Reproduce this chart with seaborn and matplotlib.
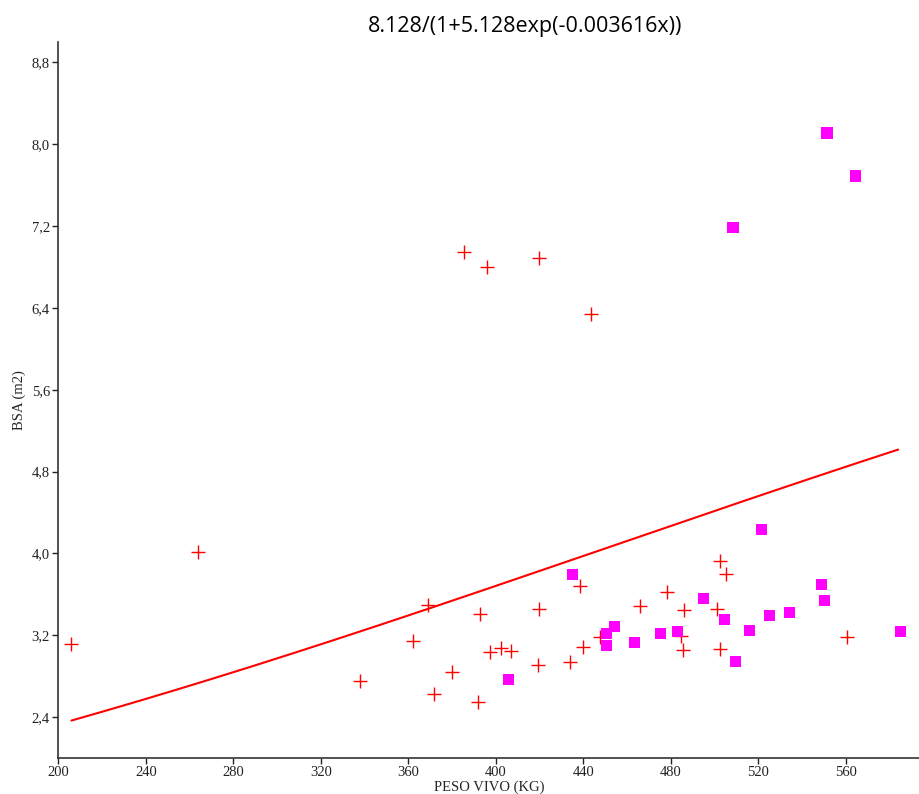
import numpy as np
import pandas as pd
import seaborn as sns
import matplotlib.pyplot as plt

# Grupo 1 (cruces rojas)
peso_cruz = [206, 264, 338, 362, 369, 372, 380, 385.5, 392, 393, 396, 397.5, 402.5, 407,
             419.5, 420, 420, 434, 438.5, 440, 443.5, 447.5, 466, 478.5, 484.5, 485.5, 486,
             501, 502.5, 502.5, 505.5, 560.5]
bsa_cruz = [3.11, 4.01, 2.75, 3.14, 3.50, 2.63, 2.84, 6.95, 2.55, 3.41, 6.80, 3.04, 3.08, 3.05,
            2.91, 3.46, 6.89, 2.94, 3.68, 3.09, 6.34, 3.18, 3.49, 3.62, 3.19, 3.06, 3.45,
            3.46, 3.93, 3.07, 3.80, 3.18]

# Grupo 2 (cuadrados magenta)
peso_cuad = [406, 435, 450.5, 450.5, 454.5, 463.5, 475.5, 483, 495, 504.5, 508.5, 509.5, 516,
             521.5, 525, 534.5, 549, 550.5, 551.5, 564.5, 585]
bsa_cuad = [2.77, 3.79, 3.22, 3.10, 3.29, 3.13, 3.22, 3.24, 3.56, 3.35, 7.19, 2.94, 3.25,
            4.23, 3.39, 3.42, 3.70, 3.54, 8.11, 7.69, 3.24]

# Ajuste logistico
a, b, k = 8.128, 5.128, 0.003616
x_fit = np.linspace(206, 584, 200)
y_fit = a / (1 + b * np.exp(-k * x_fit))

df1 = pd.DataFrame({'peso': peso_cruz, 'bsa': bsa_cruz})
df2 = pd.DataFrame({'peso': peso_cuad, 'bsa': bsa_cuad})

sns.set_style('ticks')
plt.rcParams['font.family'] = ['Liberation Serif', 'DejaVu Serif']

fig = plt.figure(figsize=(9.2, 7.94), dpi=100)
ax = fig.add_axes([0.0634, 0.0453, 0.9366, 0.9018])

sns.lineplot(x=x_fit, y=y_fit, color='#ff0000', linewidth=1.5, ax=ax)
sns.scatterplot(data=df1, x='peso', y='bsa', marker='+', s=90, color='#ff0000',
                linewidth=1.0, ax=ax)
sns.scatterplot(data=df2, x='peso', y='bsa', marker='s', s=64, color='#ff00ff',
                edgecolor='none', ax=ax)

ax.set_xlim(200, 594)
ax.set_ylim(2.0, 9.0)
ax.set_xticks(range(200, 561, 40))
yt = [2.4, 3.2, 4.0, 4.8, 5.6, 6.4, 7.2, 8.0, 8.8]
ax.set_yticks(yt)
ax.set_yticklabels([f'{v:.1f}'.replace('.', ',') for v in yt])
ax.tick_params(labelsize=10.5, length=4, width=1, colors='#222222', pad=2)
sns.despine(ax=ax)
for s in ['left', 'bottom']:
    ax.spines[s].set_color('#333333')
    ax.spines[s].set_linewidth(1.2)

ax.set_xlabel('PESO VIVO (KG)', fontsize=10.5, labelpad=1)
ax.set_ylabel('BSA (m2)', fontsize=10.5, labelpad=4)

fig.text(0.571, 0.966, '8.128/(1+5.128exp(-0.003616x))', ha='center', va='center',
         fontsize=15.5, color='black', family=['Open Sans', 'DejaVu Sans'])

fig.savefig('out.png', dpi=100)
